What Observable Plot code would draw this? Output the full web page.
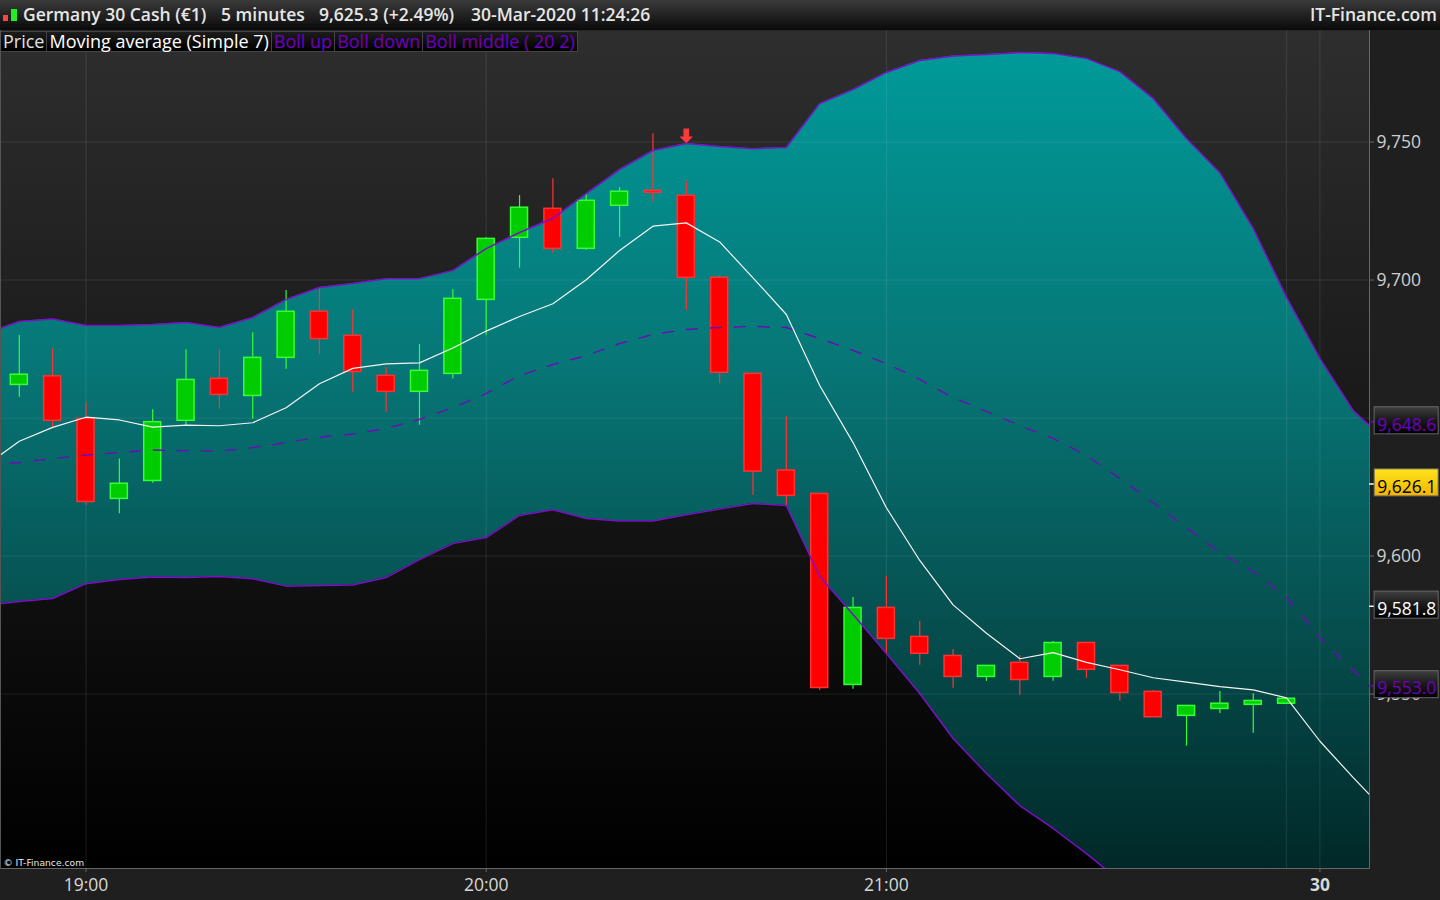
<!DOCTYPE html>
<html><head><meta charset="utf-8">
<script src="https://cdn.jsdelivr.net/npm/d3@7"></script>
<script src="https://cdn.jsdelivr.net/npm/@observablehq/plot@0.6"></script>
<style>
html,body{margin:0;padding:0;background:#1f1f1f;overflow:hidden;width:1440px;height:900px}
body{font-family:"Open Sans",sans-serif;position:relative}
#head{height:30px;width:1440px;background:linear-gradient(#3a3a3a,#0a0a0a);color:#e6e6e6;font-size:17.5px;font-weight:600;line-height:29px;white-space:pre;position:relative}
#head span{position:absolute;top:0}
#head i{position:absolute;display:block}
#legend{position:absolute;left:1px;top:31px;height:19px;display:flex;font-size:18px;line-height:19px;z-index:3}
#legend span{display:block;box-sizing:border-box;height:21px;padding:0 2px;background:linear-gradient(#1c1c1c,#000);border:1px solid #444;border-left:none;white-space:pre}
svg{display:block}
</style></head><body>
<div id="head"><i style="left:3px;top:15px;width:5px;height:6px;background:#f44"></i><i style="left:11px;top:9px;width:6px;height:12px;background:#2e2"></i></div>
<div id="legend"></div>
<div id="chart"></div>
<script>
const headerTexts = ["Germany 30 Cash (€1)","5 minutes","9,625.3 (+2.49%)","30-Mar-2020 11:24:26"];
const headerLeft = [23,221,319,471];
const brand = "IT-Finance.com";
const legendItems = [["Price","#e0e0e0"],["Moving average (Simple 7)","#ffffff"],["Boll up","#7000c0"],["Boll down","#7000c0"],["Boll middle ( 20 2)","#7000c0"]];

// candle index: 5-minute bars
const opens  = [9662.0,9665.1,9649.7,9620.7,9627.2,9649.0,9664.2,9658.0,9671.8,9688.5,9679.8,9665.3,9659.5,9666.0,9692.8,9715.3,9725.8,9711.3,9726.9,9732.3,9730.5,9700.8,9666.0,9631.0,9622.5,9553.3,9581.2,9570.7,9563.8,9556.2,9561.3,9556.2,9568.5,9560.2,9550.8,9542.1,9544.6,9546.1,9546.5];
const highs  = [9679.9,9675.1,9655.5,9635.2,9653.0,9674.7,9674.7,9680.9,9696.2,9696.9,9689.2,9668.3,9676.6,9696.6,9715.3,9730.6,9736.7,9731.0,9733.5,9753.0,9735.7,9701.6,9666.1,9650.5,9622.6,9585.0,9592.6,9576.3,9566.1,9560.3,9564.0,9569.0,9568.6,9560.3,9551.3,9545.8,9550.9,9550.1,9548.3];
const lows   = [9657.5,9646.7,9618.4,9615.3,9626.4,9647.0,9653.2,9649.6,9667.7,9673.1,9659.3,9652.1,9647.4,9664.1,9680.0,9704.3,9709.7,9710.7,9715.5,9728.2,9689.0,9662.4,9621.9,9618.0,9551.3,9551.7,9564.3,9560.4,9552.1,9554.6,9549.6,9554.6,9555.7,9547.4,9541.6,9531.1,9543.0,9535.8,9546.5];
const closes = [9665.7,9649.0,9619.6,9626.2,9648.5,9663.8,9658.4,9671.8,9688.5,9678.6,9666.7,9659.5,9667.1,9693.2,9714.9,9726.2,9711.3,9728.7,9732.0,9731.6,9700.8,9666.4,9630.6,9621.8,9552.2,9581.2,9570.0,9564.6,9556.2,9560.2,9555.1,9568.5,9558.8,9550.4,9541.6,9545.7,9546.5,9547.5,9548.3];

// indicators, from bar -1 to bar 41
const bollUp = [9680.6,9685.0,9685.9,9683.5,9683.5,9683.9,9684.6,9682.8,9686.4,9692.9,9697.3,9698.7,9700.5,9700.5,9703.4,9711.4,9717.2,9722.3,9731.3,9740.0,9746.9,9749.5,9748.4,9747.6,9748.0,9763.9,9769.0,9775.2,9779.5,9781.2,9781.7,9782.4,9782.1,9780.3,9775.5,9765.8,9751.3,9738.9,9718.7,9693.7,9671.6,9652.7,9641.5];
const bollDown = [9582.2,9583.5,9584.6,9590.0,9591.5,9592.4,9592.2,9592.6,9591.8,9589.1,9589.3,9589.5,9592.2,9598.7,9604.5,9606.7,9614.7,9616.8,9613.6,9612.7,9612.7,9615.0,9617.0,9619.0,9618.3,9592.6,9578.8,9564.7,9550.2,9533.9,9521.2,9509.6,9501.3,9492.2,9482.4,9473.0,9469.3,9463.7,9470.0,9476.0,9469.0,9464.0,9457.0];
const bollMid = [9633.2,9633.9,9635.3,9636.6,9637.5,9638.4,9638.2,9638.0,9639.3,9641.1,9643.1,9644.2,9646.2,9649.5,9653.8,9658.9,9665.4,9669.4,9672.6,9677.0,9680.3,9682.1,9682.8,9683.2,9682.8,9678.8,9674.5,9669.7,9664.0,9657.4,9652.4,9647.3,9642.6,9636.4,9628.1,9619.4,9610.3,9601.3,9594.4,9585.0,9570.5,9558.5,9549.0];
const ma7 = [9632.8,9641.6,9646.6,9650.3,9649.3,9646.7,9647.4,9647.2,9648.3,9653.7,9662.4,9668.0,9669.6,9670.0,9675.4,9681.5,9686.8,9691.4,9700.1,9710.7,9719.5,9720.7,9713.8,9700.8,9687.5,9661.8,9641.1,9617.5,9598.4,9582.3,9572.0,9562.8,9565.0,9561.5,9558.8,9555.9,9554.3,9552.7,9551.5,9548.6,9532.9,9519.7,9507.1];

const timeTicks = [2,14,26];
const timeLabels = ["19:00","20:00","21:00"];
const dayTick = [39];
const dayLabel = ["30"];
const extraGridX = [38];
const gridPrices = [9550,9600,9650,9700,9750];
const labelledPrices = [9550,9600,9700,9750];
const signalBar = 20;
const signalPrice = 9752;

const tags = [
  {value:9648.6,label:"9,648.6",text:"#7000c0",fill:"url(#tagDark)",tick:"#7000c0"},
  {value:9626.1,label:"9,626.1",text:"#000000",fill:"url(#tagGold)",tick:"#ffffff"},
  {value:9581.8,label:"9,581.8",text:"#ffffff",fill:"url(#tagDark)",tick:"#ffffff"},
  {value:9553.0,label:"9,553.0",text:"#7000c0",fill:"url(#tagDark)",tick:"#7000c0"}
];

const head = document.getElementById("head");
headerTexts.forEach((t,k)=>{const s=document.createElement("span");s.textContent=t;s.style.left=headerLeft[k]+"px";head.appendChild(s);});
const b = document.createElement("span");b.textContent=brand;b.style.right="3px";head.appendChild(b);
const lg = document.getElementById("legend");
legendItems.forEach(([t,c])=>{const s=document.createElement("span");s.textContent=t;s.style.color=c;lg.appendChild(s);});

const candles = opens.map((o,i)=>({i,o,h:highs[i],l:lows[i],c:closes[i],up:closes[i]>=o}));
const bands = bollUp.map((u,k)=>({i:k-1,u,d:bollDown[k],m:bollMid[k],a:ma7[k]}));
const GREEN="#00cc00",GREENL="#33ff33",RED="#ff0000",REDL="#ff3333";
const HALF=0.255;
const TAGH=4.9;
const XSTART=40.64,XEND=42.56,XTICK=40.49;

// block arrow pointing down, for the sell signal
const downArrow = {draw(ctx,size){
  const u=Math.sqrt(size)/14;
  ctx.moveTo(-2.5*u,-7*u);ctx.lineTo(2.5*u,-7*u);ctx.lineTo(2.5*u,0);ctx.lineTo(6*u,0);
  ctx.lineTo(0,6*u);ctx.lineTo(-6*u,0);ctx.lineTo(-2.5*u,0);ctx.closePath();
}};

function defs(){
  const g=d3.create("svg:defs");
  const grad=(id,stops,attrs)=>{
    const l=g.append("linearGradient").attr("id",id);
    Object.entries(attrs).forEach(([k,v])=>l.attr(k,v));
    stops.forEach(([o,c])=>l.append("stop").attr("offset",o).attr("stop-color",c));
  };
  const us={gradientUnits:"userSpaceOnUse",x1:0,x2:0,y1:0,y2:838};
  grad("bg",[[0,"#2e2e2e"],[1,"#000000"]],us);
  grad("teal",[[0,"#009c9c"],[0.4,"#077676"],[0.7,"#065050"],[1,"#012828"]],us);
  grad("tagDark",[[0,"#404040"],[0.45,"#1c1c1c"],[1,"#000000"]],{x1:0,x2:0,y1:0,y2:1});
  grad("tagGold",[[0,"#ffe41e"],[1,"#f2b400"]],{x1:0,x2:0,y1:0,y2:1});
  return g.node();
}

const chart = Plot.plot({
  width:1440,height:870,
  marginLeft:0,marginRight:71,marginTop:0,marginBottom:32,
  x:{domain:[-0.5637,40.486],axis:null},
  y:{domain:[9486.8,9790.4],axis:null},
  style:{background:"#1f1f1f",fontFamily:"'Open Sans',sans-serif",overflow:"visible"},
  marks:[
    defs,
    Plot.frame({fill:"url(#bg)",stroke:"none"}),
    Plot.areaY(bands,{x:"i",y1:"d",y2:"u",fill:"url(#teal)",clip:true}),
    Plot.gridY(gridPrices,{stroke:"#ffffff",strokeOpacity:0.09}),
    Plot.gridX(timeTicks.concat(dayTick,extraGridX),{stroke:"#ffffff",strokeOpacity:0.1}),
    Plot.ruleX(candles,{x:"i",y1:"l",y2:"h",stroke:d=>d.up?GREENL:REDL,strokeWidth:1.2}),
    Plot.rect(candles,{x1:d=>d.i-HALF,x2:d=>d.i+HALF,y1:"o",y2:"c",fill:d=>d.up?GREEN:RED,stroke:d=>d.up?GREENL:REDL,strokeWidth:1.5}),
    Plot.line(bands,{x:"i",y:"m",stroke:"#6c0cb8",strokeWidth:1.4,strokeDasharray:"11,13",clip:true}),
    Plot.line(bands,{x:"i",y:"u",stroke:"#7a10c8",strokeWidth:1.5,clip:true}),
    Plot.line(bands,{x:"i",y:"d",stroke:"#7a10c8",strokeWidth:1.5,clip:true}),
    Plot.line(bands,{x:"i",y:"a",stroke:"#f4f4f4",strokeWidth:1.2,clip:true}),
    Plot.dot([signalBar],{x:d=>d,y:()=>signalPrice,symbol:downArrow,r:9,fill:"#f83a3a",stroke:"none"}),
    Plot.text(["© IT-Finance.com"],{frameAnchor:"bottom-left",dx:3,dy:-3,fill:"#e8e8e8",fontSize:9.2,fontFamily:"DejaVu Sans",textAnchor:"start"}),
    Plot.frame({stroke:"#666666",anchor:"right"}),
    Plot.frame({stroke:"#666666",anchor:"bottom"}),
    Plot.frame({stroke:"#555555",anchor:"left"}),
    Plot.axisX({ticks:timeTicks,tickFormat:d=>timeLabels[timeTicks.indexOf(d)],tickSize:4,tickPadding:6,label:null,stroke:"#666",color:"#d8d8d8",fontSize:17.5}),
    Plot.axisX({ticks:dayTick,tickFormat:d=>dayLabel[dayTick.indexOf(d)],tickSize:4,tickPadding:6,label:null,stroke:"#666",color:"#d8d8d8",fontSize:17.5,fontWeight:"bold"}),
    Plot.axisY({anchor:"right",ticks:labelledPrices,tickFormat:d3.format(","),tickSize:4,tickPadding:3,label:null,stroke:"#666",color:"#cfcfcf",fontSize:17.5}),
    Plot.ruleY(tags,{y:"value",x1:()=>XTICK,x2:()=>XSTART,stroke:"tick",strokeWidth:1.5}),
    Plot.rect(tags,{x1:()=>XSTART,x2:()=>XEND,y1:d=>d.value-TAGH+0.4,y2:d=>d.value+TAGH+0.4,fill:"fill",stroke:"#666666"}),
    Plot.text(tags,{x:()=>XSTART,y:"value",text:"label",fill:"text",dx:2.5,dy:3,textAnchor:"start",fontSize:17.5})
  ]
});
document.getElementById("chart").appendChild(chart);
</script>
</body></html>
